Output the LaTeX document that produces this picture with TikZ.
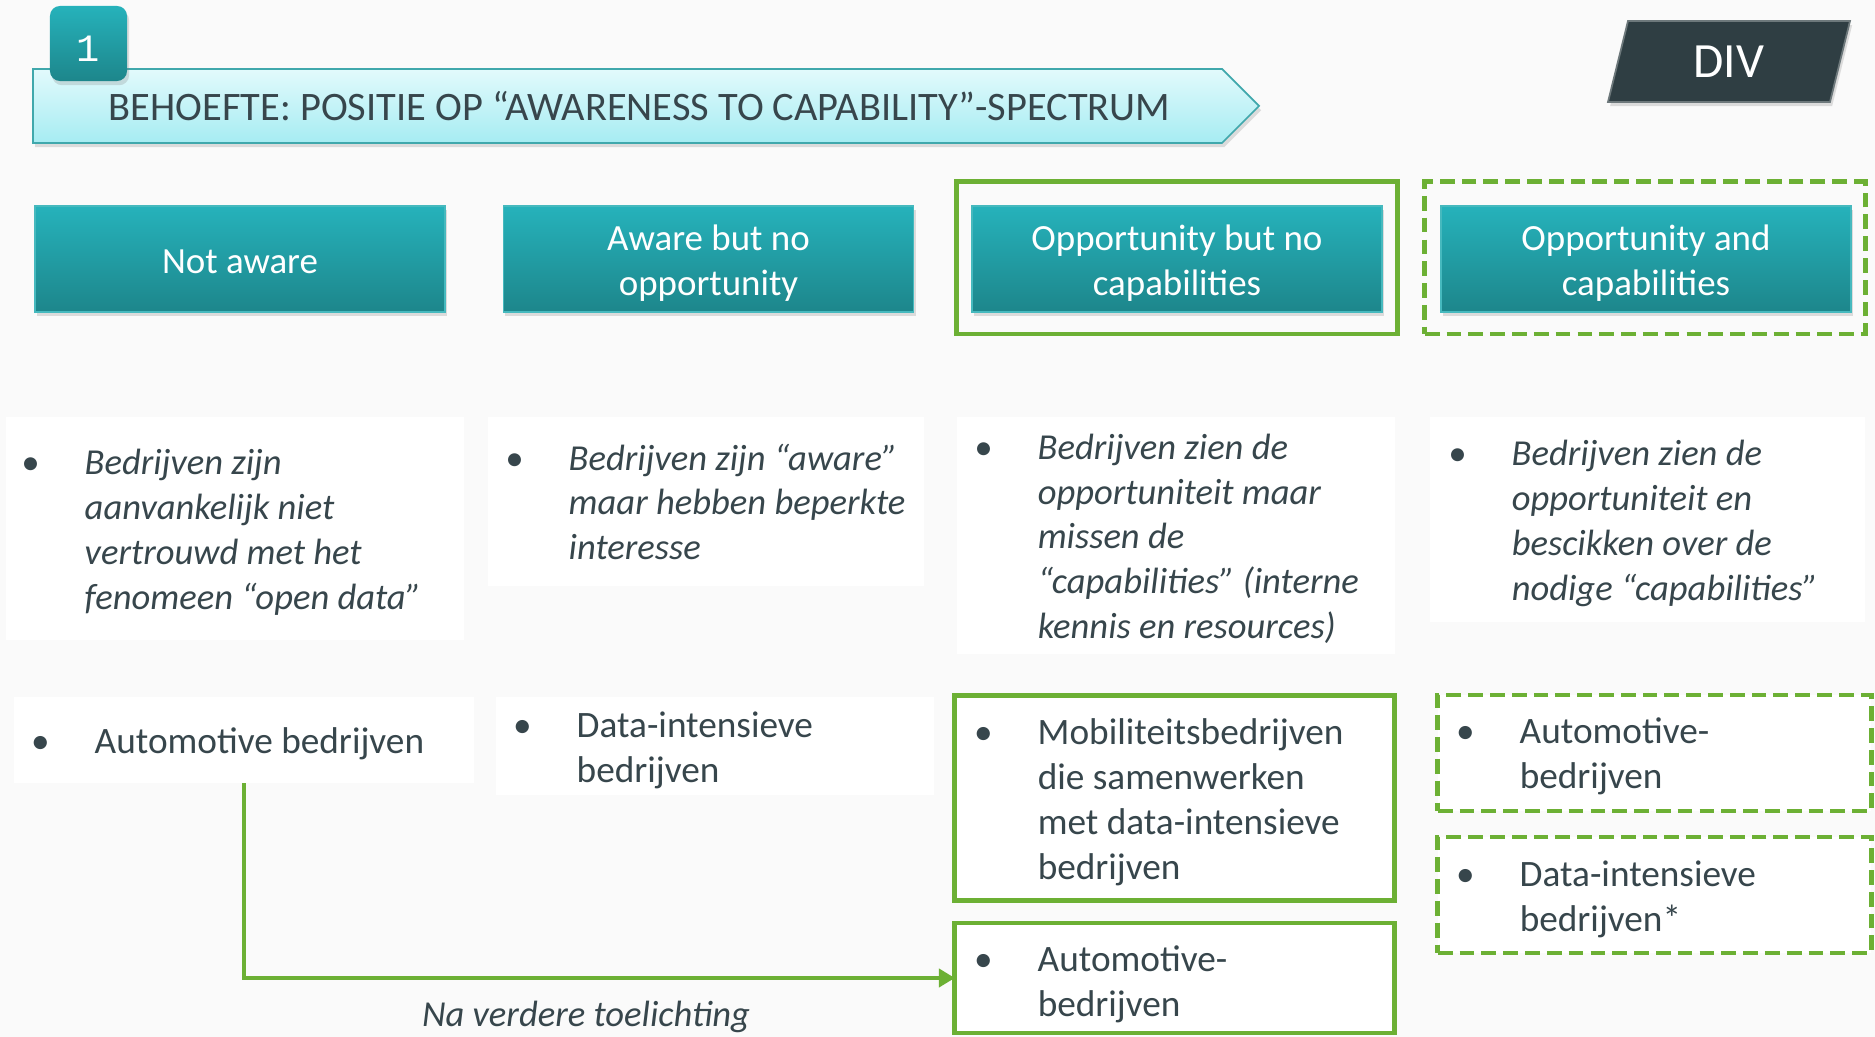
\documentclass[tikz,border=0pt]{standalone}
\usepackage{fontspec}
\setmainfont{Carlito}
\newfontfamily\monofam{Liberation Mono}
\usetikzlibrary{arrows.meta,shadows}
\definecolor{bgc}{RGB}{250,250,250}
\definecolor{txt}{RGB}{55,70,76}
\definecolor{tealtop}{RGB}{38,178,187}
\definecolor{tealbot}{RGB}{29,134,139}
\definecolor{tealedge}{RGB}{70,185,190}
\definecolor{grn}{RGB}{108,176,52}
\definecolor{bantop}{RGB}{226,250,252}
\definecolor{banbot}{RGB}{166,236,242}
\definecolor{banedge}{RGB}{64,168,172}
\definecolor{divc}{RGB}{47,62,67}
\newcommand\blist[1]{\begin{tabular}{@{}p{0.635cm}@{}l@{}}#1\end{tabular}}
\begin{document}
\begin{tikzpicture}[x=0.01cm,y=-0.01cm,
  shad/.style={drop shadow={opacity=0.25,shadow xshift=0.6pt,shadow yshift=-1.2pt}},
  hdr/.style={minimum width=4.1cm,minimum height=1.06cm,inner sep=0,outer sep=0,
    top color=tealtop,bottom color=tealbot,draw=tealedge,line width=0.4pt,
    text=white,align=center,font={\fontsize{10.5}{12.75}\selectfont},shad},
  hlbl/.style={text=white,align=center,inner sep=0,font={\fontsize{10.5}{12.75}\selectfont}},
  wbox/.style={fill=white,inner sep=0,outer sep=0},
  gbox/.style={wbox,draw=grn,line width=1.4pt},
  gdash/.style={gbox,dash pattern=on 4.2pt off 2pt},
  gframe/.style={draw=grn,line width=1.4pt,inner sep=0,outer sep=0,minimum width=4.4cm,minimum height=1.52cm},
  btxt/.style={anchor=west,inner sep=0,text=txt,font={\fontsize{10.6}{12.75}\selectfont}},
  itxt/.style={btxt,font={\fontsize{10.4}{12.75}\selectfont\itshape}},
  garrow/.style={draw=grn,line width=1.4pt,-{Triangle[length=0.16cm,width=0.18cm]}}
]
\fill[bgc] (0,0) rectangle (1875,1037);
\useasboundingbox (0,0) rectangle (1875,1037);

% banner
\path[top color=bantop,bottom color=banbot,draw=banedge,line width=0.5pt,shad]
  (33,69) -- (1222,69) -- (1259,106) -- (1222,143) -- (33,143) -- cycle;
\node[anchor=west,inner sep=0,text=txt,font={\fontsize{11.5}{14}\selectfont}] (title) at (108,106)
  {BEHOEFTE: POSITIE OP “AWARENESS TO CAPABILITY”-SPECTRUM};
\node[minimum width=0.77cm,minimum height=0.75cm,inner sep=0,rounded corners=0.1cm,
  top color=tealtop,bottom color=tealbot,shad] (badge) at (88.5,43.5) {};
\node[text=white,inner sep=0,font={\monofam\fontsize{11}{13}\selectfont}] (one) at (88.5,49) {1};

% DIV
\path[fill=divc,draw=divc!70!white,line width=0.5pt,shad] (1628,21) -- (1850,21) -- (1830,102) -- (1608,102) -- cycle;
\node[text=white,font={\fontsize{14}{16}\selectfont}] (div) at (1729,62) {DIV};

% header boxes
\node[hdr] (h1) at (240,259) {};
\node[hdr] (h2) at (708.5,259) {};
\node[hdr] (h3) at (1177,259) {};
\node[hdr] (h4) at (1646,259) {};
\node[hlbl] (l1) at (240,262) {Not aware};
\node[hlbl] (l2) at (708.5,263) {Aware but no\\opportunity};
\node[hlbl] (l3) at (1177,263) {Opportunity but no\\capabilities};
\node[hlbl] (l4) at (1646,263) {Opportunity and\\capabilities};
\node[gframe] (f3) at (1177,258) {};
\node[gframe,dash pattern=on 4.2pt off 2pt] (f4) at (1645,258) {};

% description boxes
\node[wbox,minimum width=4.58cm,minimum height=2.23cm] (d1) at (235,528.5) {};
\node[wbox,minimum width=4.36cm,minimum height=1.69cm] (d2) at (706,501.5) {};
\node[wbox,minimum width=4.38cm,minimum height=2.37cm] (d3) at (1176,535.5) {};
\node[wbox,minimum width=4.35cm,minimum height=2.05cm] (d4) at (1647.5,519.5) {};
\node[itxt] (td1) at (20.5,533) {\blist{\textbullet & Bedrijven zijn\\ & aanvankelijk niet\\ & vertrouwd met het\\ & fenomeen “open data”}};
\node[itxt] (td2) at (504.5,506) {\blist{\textbullet & Bedrijven zijn “aware”\\ & maar hebben beperkte\\ & interesse}};
\node[itxt] (td3) at (973.5,540) {\blist{\textbullet & Bedrijven zien de\\ & opportuniteit maar\\ & missen de\\ & “capabilities” (interne\\ & kennis en resources)}};
\node[itxt] (td4) at (1447.5,524) {\blist{\textbullet & Bedrijven zien de\\ & opportuniteit en\\ & bescikken over de\\ & nodige “capabilities”}};

% bottom boxes
\node[wbox,minimum width=4.6cm,minimum height=0.86cm] (b1) at (244,740) {};
\node[wbox,minimum width=4.38cm,minimum height=0.98cm] (b2) at (715,746) {};
\node[gbox,minimum width=4.39cm,minimum height=2.04cm] (b3) at (1174.5,798) {};
\node[gbox,minimum width=4.39cm,minimum height=1.1cm] (b4) at (1174.5,978) {};
\node[gdash,minimum width=4.33cm,minimum height=1.16cm] (b5) at (1654.5,753) {};
\node[gdash,minimum width=4.33cm,minimum height=1.16cm] (b6) at (1654.5,895) {};
\node[btxt] (tb1) at (30.5,745) {\blist{\textbullet & Automotive bedrijven}};
\node[btxt] (tb2) at (512.5,751) {\blist{\textbullet & Data-intensieve\\ & bedrijven}};
\node[btxt] (tb3) at (973.5,803) {\blist{\textbullet & Mobiliteitsbedrijven\\ & die samenwerken\\ & met data-intensieve\\ & bedrijven}};
\node[btxt] (tb4) at (973.5,985) {\blist{\textbullet & Automotive-\\ & bedrijven}};
\node[btxt] (tb5) at (1455.5,757) {\blist{\textbullet & Automotive-\\ & bedrijven}};
\node[btxt] (tb6) at (1455.5,900) {\blist{\textbullet & Data-intensieve\\ & bedrijven*}};

% arrow
\draw[garrow] (b1.south) |- (b4.west);
\node[itxt,anchor=center] (lbl) at (586,1017) {Na verdere toelichting};
\end{tikzpicture}
\end{document}
